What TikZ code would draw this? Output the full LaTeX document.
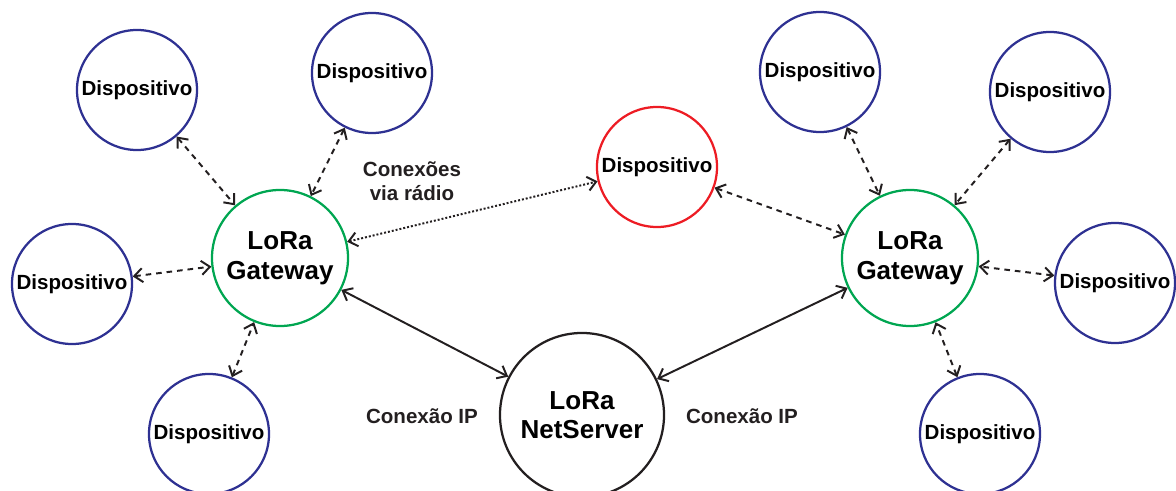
\documentclass[tikz,border=0pt]{standalone}
\usepackage{fontspec}
\setmainfont{Liberation Sans}
\usetikzlibrary{arrows.meta, positioning}
\definecolor{devBlue}{RGB}{46, 49, 146}
\definecolor{gwGreen}{RGB}{0, 166, 81}
\definecolor{devRed}{RGB}{237, 28, 36}
\definecolor{linkGray}{RGB}{35, 31, 32}

\begin{document}
\begin{tikzpicture}[
  x=0.025cm, y=-0.025cm,
  dev/.style={circle, draw=devBlue, line width=1.6pt, minimum size=3cm,
    inner sep=0pt, font=\bfseries\fontsize{14.6}{16}\selectfont},
  gw/.style={circle, draw=gwGreen, line width=1.6pt, minimum size=3.4cm,
    inner sep=0pt, align=center, font=\bfseries\fontsize{18.5}{21}\selectfont},
  srv/.style={circle, draw=linkGray, line width=1.6pt, minimum size=4.1cm,
    inner sep=0pt, align=center, font=\bfseries\fontsize{18.5}{21}\selectfont},
  lbl/.style={align=center, text=linkGray,
    font=\bfseries\fontsize{14.6}{17}\selectfont},
  link/.style={{Straight Barb[length=6pt,width=10pt]}-{Straight Barb[length=6pt,width=10pt]},
    linkGray, line width=1.4pt},
  radio/.style={link, dash pattern=on 4pt off 3.5pt},
  dots/.style={link, dash pattern=on 1.4pt off 1.4pt},
]
\useasboundingbox (0,0) rectangle (1176,491);

%% Gateways and server
\node[gw]  (gwL) at (280, 258) {LoRa\\Gateway};
\node[gw]  (gwR) at (910, 258) {LoRa\\Gateway};
\node[srv] (srv) at (582, 415) {LoRa\\NetServer};

%% Devices, left cluster
\node[dev] (dL1) at (137,  90) {Dispositivo};
\node[dev] (dL2) at (372,  73) {Dispositivo};
\node[dev] (dL3) at ( 72, 284) {Dispositivo};
\node[dev] (dL4) at (209, 434) {Dispositivo};

%% Devices, right cluster
\node[dev] (dR1) at ( 820,  72) {Dispositivo};
\node[dev] (dR2) at (1050,  92) {Dispositivo};
\node[dev] (dR3) at (1115, 283) {Dispositivo};
\node[dev] (dR4) at ( 980, 434) {Dispositivo};

%% Shared device
\node[dev, draw=devRed] (dC) at (657, 167) {Dispositivo};

%% Radio links
\foreach \d in {dL1, dL2, dL3, dL4}{
  \draw[radio] (\d) -- (gwL);
}
\foreach \d in {dR1, dR2, dR3, dR4}{
  \draw[radio] (\d) -- (gwR);
}
\draw[radio] (dC) -- (gwR);
\draw[dots]  (gwL) -- (dC);

%% IP links
\draw[link] (gwL) -- (srv);
\draw[link] (gwR) -- (srv);

%% Labels
\node[lbl] (lRadio) at (412, 181) {Conexões\\via rádio};
\node[lbl] (lIpL)   at (422, 416) {Conexão IP};
\node[lbl] (lIpR)   at (742, 416) {Conexão IP};
\end{tikzpicture}
\end{document}
